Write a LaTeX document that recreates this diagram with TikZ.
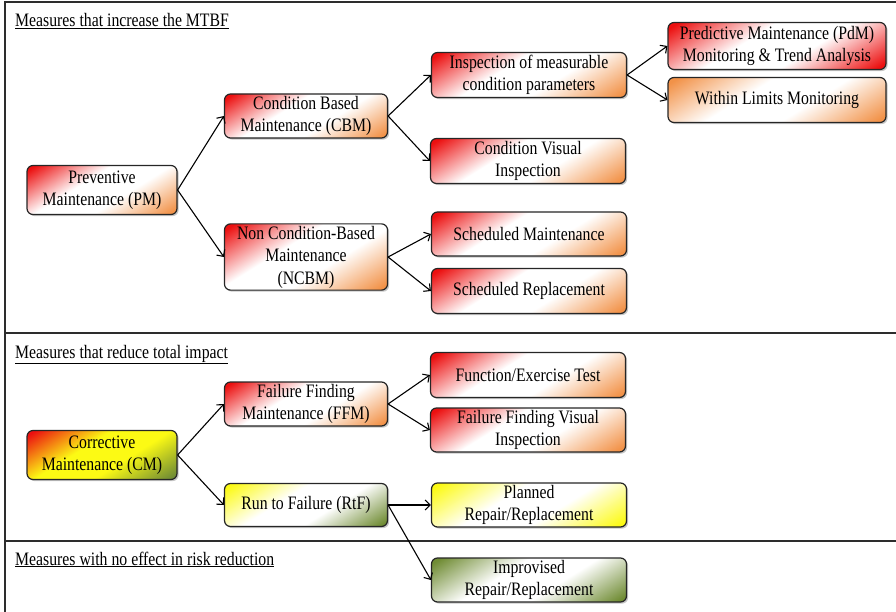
\documentclass[tikz,border=0pt]{standalone}
\usepackage{fontspec}
\setmainfont[FakeStretch=0.83]{Liberation Serif}
\usetikzlibrary{arrows.meta,shadows}

\definecolor{cRed}{RGB}{236,16,16}
\definecolor{cOrange}{RGB}{242,146,72}
\definecolor{cYellow}{RGB}{252,250,20}
\definecolor{cGreen}{RGB}{112,140,52}
\definecolor{cEdge}{RGB}{38,38,38}
\definecolor{cRule}{RGB}{45,45,45}

% three-colour fill: trA at the top end, trB wide in the middle, trC at the bottom end
\colorlet{trA}{red}\colorlet{trB}{white}\colorlet{trC}{orange}
\pgfdeclareverticalshading[trA,trB,trC]{trishade}{100bp}{%
  color(0bp)=(trC); color(18bp)=(trC); color(41bp)=(trB);
  color(59bp)=(trB); color(82bp)=(trA); color(100bp)=(trA)}

\tikzset{
  box/.style={draw=cEdge, line width=1.2pt, rounded corners=6pt, align=center,
    inner sep=2pt, text=black, font=\fontsize{19}{22.5}\selectfont,
    drop shadow={shadow xshift=1.6pt, shadow yshift=-1.6pt, opacity=0.45}},
  tri/.style n args={3}{/utils/exec={\colorlet{trA}{#1}\colorlet{trB}{#2}\colorlet{trC}{#3}},
    shade, shading=trishade, shading angle=32},
  ro/.style={tri={cRed}{white}{cOrange}},
  rr/.style={tri={cRed}{white}{cRed}},
  oo/.style={tri={cOrange}{white}{cOrange}},
  ryg/.style={tri={cRed}{cYellow}{cGreen}},
  yg/.style={tri={cYellow}{white}{cGreen}},
  yy/.style={tri={cYellow}{white}{cYellow}},
  gg/.style={tri={cGreen}{white}{cGreen}},
  w1/.style={minimum width=150pt},
  w2/.style={minimum width=163pt},
  w3/.style={minimum width=195pt},
  w4/.style={minimum width=218pt},
  link/.style={draw=black, line width=1.1pt, -{Straight Barb[length=5pt,width=10pt,line width=1.1pt]}},
  rule/.style={draw=cRule, line width=1.4pt},
  heading/.style={anchor=base west, inner sep=0pt, font=\fontsize{19}{22}\selectfont}
}

\begin{document}
\begin{tikzpicture}[x=1pt, y=-1pt]
\useasboundingbox (0,0) rectangle (896,612);

% section frame
\draw[rule] (5,612) -- (5,2) -- (896,2);
\draw[rule] (5,333) -- (896,333);
\draw[rule] (5,541) -- (896,541);

% section headings
\node[heading] (h1) at (15,27) {\underline{Measures that increase the MTBF}};
\node[heading] (h2) at (15,358) {\underline{Measures that reduce total impact}};
\node[heading] (h3) at (15,565) {\underline{Measures with no effect in risk reduction}};

% preventive branch
\node[box, ro, w1, minimum height=49pt] (pm) at (102,190) {Preventive\\Maintenance (PM)};
\node[box, ro, w2, minimum height=44pt] (cbm) at (306,116) {Condition Based\\Maintenance (CBM)};
\node[box, ro, w2, minimum height=66pt] (ncbm) at (306,257) {Non Condition-Based\\Maintenance\\(NCBM)};
\node[box, ro, w3, minimum height=45pt] (imcp) at (529,75) {Inspection of measurable\\condition parameters};
\node[box, ro, w3, minimum height=45pt] (cvi) at (528,161) {Condition Visual\\Inspection};
\node[box, ro, w3, minimum height=44pt] (sm) at (529,234) {Scheduled Maintenance};
\node[box, ro, w3, minimum height=45pt] (sr) at (529,291) {Scheduled Replacement};
\node[box, rr, w4, minimum height=47pt] (pdm) at (777,46) {Predictive Maintenance (PdM)\\Monitoring \& Trend Analysis};
\node[box, oo, w4, minimum height=45pt] (wlm) at (777,100) {Within Limits Monitoring};

% corrective branch
\node[box, ryg, w1, minimum height=49pt] (cm) at (102,455) {Corrective\\Maintenance (CM)};
\node[box, ro, w2, minimum height=44pt] (ffm) at (306,404) {Failure Finding\\Maintenance (FFM)};
\node[box, yg, w2, minimum height=43pt] (rtf) at (306,505) {Run to Failure (RtF)};
\node[box, ro, w3, minimum height=45pt] (fet) at (528,375) {Function/Exercise Test};
\node[box, ro, w3, minimum height=44pt] (ffvi) at (528,430) {Failure Finding Visual\\Inspection};
\node[box, yy, w3, minimum height=44pt] (prr) at (529,505) {Planned\\Repair/Replacement};
\node[box, gg, w3, minimum height=44pt] (irr) at (529,580) {Improvised\\Repair/Replacement};

% connectors
\draw[link] (pm.east) -- (cbm.west);
\draw[link] (pm.east) -- (ncbm.west);
\draw[link] (cbm.east) -- (imcp.west);
\draw[link] (cbm.east) -- (cvi.west);
\draw[link] (ncbm.east) -- (sm.west);
\draw[link] (ncbm.east) -- (sr.west);
\draw[link] (imcp.east) -- (pdm.west);
\draw[link] (imcp.east) -- (wlm.west);
\draw[link] (cm.east) -- (ffm.west);
\draw[link] (cm.east) -- (rtf.west);
\draw[link] (ffm.east) -- (fet.west);
\draw[link] (ffm.east) -- (ffvi.west);
\draw[link] (rtf.east) -- (prr.west);
\draw[link] (rtf.east) -- (irr.west);
\end{tikzpicture}
\end{document}
